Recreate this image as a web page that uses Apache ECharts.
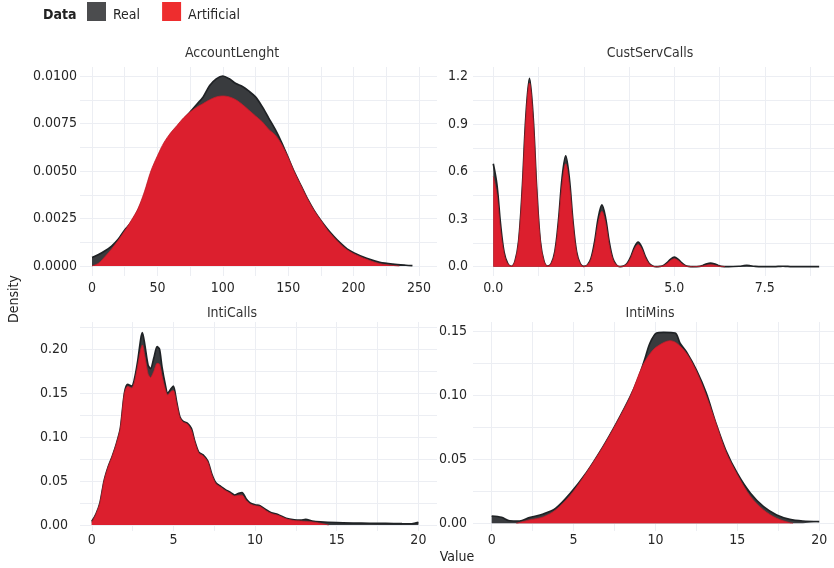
<!DOCTYPE html>
<html><head><meta charset="utf-8">
<script src="https://cdn.jsdelivr.net/npm/echarts@6/dist/echarts.min.js"></script>
<style>html,body{margin:0;padding:0;background:#fff}#c{width:834px;height:568px}</style>
</head><body><div id="c"></div>
<script>
// ---------- data ----------
const panelTitles = ['AccountLenght', 'CustServCalls', 'IntiCalls', 'IntiMins'];
const legendNames = ['Real', 'Artificial'];

const accReal = [[0,0.00045],[5,0.0006],[10,0.0008],[15,0.00105],[20,0.0014],[25,0.0019],[30,0.0023],[35,0.0029],[40,0.0037],[45,0.0048],[50,0.0056],[55,0.0063],[60,0.0069],[65,0.0073],[70,0.0077],[75,0.0081],[80,0.0085],[85,0.0089],[90,0.0095],[95,0.00985],[100,0.0100],[105,0.00985],[110,0.0096],[115,0.00945],[120,0.0092],[125,0.0089],[130,0.0084],[135,0.0078],[140,0.0072],[145,0.0065],[150,0.0057],[155,0.0049],[160,0.0042],[165,0.0035],[170,0.0029],[175,0.0024],[180,0.00195],[185,0.00155],[190,0.0012],[195,0.0009],[200,0.0007],[210,0.0004],[220,0.0002],[230,0.0001],[240,0.00004],[245,0.00002]];
const accArt = [[0,0],[5,0.00015],[10,0.0005],[15,0.0009],[20,0.00135],[25,0.00185],[30,0.0024],[35,0.003],[40,0.0039],[45,0.005],[50,0.0058],[55,0.0065],[60,0.007],[65,0.0074],[70,0.0078],[75,0.0081],[80,0.00835],[85,0.00855],[90,0.00875],[95,0.0089],[100,0.00895],[105,0.0089],[110,0.00875],[115,0.0085],[120,0.0082],[125,0.0079],[130,0.0076],[135,0.0072],[140,0.0069],[145,0.0064],[150,0.0057],[155,0.0049],[160,0.0042],[165,0.0035],[170,0.0029],[175,0.0024],[180,0.0019],[185,0.0015],[190,0.00115],[195,0.00085],[200,0.00065],[210,0.00035],[220,0.00012],[230,0.00003],[235,0]];

const csReal = [[0,0.65],[0.1,0.52],[0.2,0.27],[0.3,0.09],[0.4,0.02],[0.5,0.003],
[0.6,0.035],[0.7,0.16],[0.8,0.49],[0.9,0.95],[1.0,1.19],[1.1,0.95],[1.2,0.49],[1.3,0.16],[1.4,0.035],[1.5,0.004],
[1.6,0.02],[1.7,0.095],[1.8,0.29],[1.9,0.56],[2.0,0.70],[2.1,0.56],[2.2,0.29],[2.3,0.095],[2.4,0.02],[2.5,0.002],
[2.6,0.011],[2.7,0.053],[2.8,0.16],[2.9,0.31],[3.0,0.39],[3.1,0.31],[3.2,0.16],[3.3,0.053],[3.4,0.011],[3.5,0.001],
[3.6,0.004],[3.7,0.021],[3.8,0.064],[3.9,0.124],[4.0,0.155],[4.1,0.124],[4.2,0.064],[4.3,0.021],[4.4,0.004],[4.5,0],
[4.6,0.002],[4.7,0.008],[4.8,0.025],[4.9,0.048],[5.0,0.06],[5.1,0.048],[5.2,0.025],[5.3,0.008],[5.4,0.002],[5.5,0],
[5.7,0.002],[5.8,0.009],[5.9,0.018],[6.0,0.022],[6.1,0.018],[6.2,0.009],[6.3,0.002],[6.5,0],
[6.8,0.003],[6.9,0.006],[7.0,0.008],[7.1,0.006],[7.2,0.003],[7.4,0],
[7.8,0.001],[7.9,0.002],[8.0,0.003],[8.1,0.002],[8.2,0.001],[8.5,0],[9.0,0.001]];
const csArt = [[0,0.57],[0.1,0.46],[0.2,0.23],[0.3,0.08],[0.4,0.017],[0.5,0.003],
[0.6,0.034],[0.7,0.16],[0.8,0.48],[0.9,0.93],[1.0,1.16],[1.1,0.93],[1.2,0.48],[1.3,0.16],[1.4,0.034],[1.5,0.004],
[1.6,0.019],[1.7,0.088],[1.8,0.27],[1.9,0.52],[2.0,0.65],[2.1,0.52],[2.2,0.27],[2.3,0.088],[2.4,0.019],[2.5,0.002],
[2.6,0.01],[2.7,0.047],[2.8,0.14],[2.9,0.28],[3.0,0.35],[3.1,0.28],[3.2,0.14],[3.3,0.047],[3.4,0.01],[3.5,0.001],
[3.6,0.004],[3.7,0.019],[3.8,0.057],[3.9,0.112],[4.0,0.14],[4.1,0.112],[4.2,0.057],[4.3,0.019],[4.4,0.004],[4.5,0],
[4.6,0.001],[4.7,0.006],[4.8,0.02],[4.9,0.04],[5.0,0.05],[5.1,0.04],[5.2,0.02],[5.3,0.006],[5.4,0.001],[5.5,0],
[5.8,0.005],[5.9,0.01],[6.0,0.012],[6.1,0.01],[6.2,0.005],[6.4,0]];

const icReal = [[0,0.004],[0.25,0.012],[0.5,0.025],[0.75,0.05],[1.0,0.066],[1.25,0.078],[1.5,0.092],[1.75,0.11],[2.0,0.15],[2.2,0.16],[2.45,0.158],[2.6,0.165],[2.8,0.185],[3.0,0.212],[3.1,0.219],[3.25,0.205],[3.45,0.182],[3.6,0.178],[3.8,0.19],[4.0,0.203],[4.15,0.2],[4.3,0.18],[4.5,0.16],[4.65,0.15],[4.85,0.155],[5.0,0.158],[5.2,0.14],[5.4,0.123],[5.6,0.118],[5.85,0.116],[6.1,0.11],[6.3,0.096],[6.55,0.083],[6.8,0.08],[7.1,0.073],[7.35,0.058],[7.6,0.048],[7.9,0.044],[8.2,0.04],[8.5,0.037],[8.75,0.034],[9.0,0.036],[9.2,0.037],[9.45,0.03],[9.7,0.025],[10.0,0.023],[10.3,0.022],[10.7,0.017],[11.0,0.014],[11.4,0.012],[11.9,0.0076],[12.4,0.0058],[12.8,0.0055],[13.1,0.0065],[13.5,0.0045],[14.0,0.0035],[15,0.0026],[16,0.0022],[17,0.002],[18,0.0018],[19,0.0015],[19.6,0.0014],[20,0.003]];
const icArt = [[0,0.003],[0.25,0.012],[0.5,0.025],[0.75,0.05],[1.0,0.066],[1.25,0.078],[1.5,0.092],[1.75,0.11],[2.0,0.15],[2.2,0.158],[2.45,0.156],[2.6,0.162],[2.8,0.18],[3.0,0.2],[3.1,0.205],[3.25,0.192],[3.45,0.172],[3.6,0.168],[3.8,0.175],[4.0,0.184],[4.15,0.183],[4.3,0.17],[4.5,0.155],[4.65,0.148],[4.85,0.152],[5.0,0.153],[5.2,0.138],[5.4,0.122],[5.6,0.117],[5.85,0.115],[6.1,0.108],[6.3,0.095],[6.55,0.082],[6.8,0.079],[7.1,0.072],[7.35,0.057],[7.6,0.047],[7.9,0.043],[8.2,0.039],[8.5,0.036],[8.75,0.033],[9.0,0.034],[9.2,0.034],[9.45,0.028],[9.7,0.024],[10.0,0.022],[10.3,0.021],[10.7,0.016],[11.0,0.013],[11.4,0.011],[11.9,0.007],[12.4,0.005],[12.8,0.0045],[13.1,0.004],[13.5,0.0035],[14.0,0.002],[14.5,0]];

const imReal = [[0,0.0057],[0.6,0.0047],[1.1,0.002],[1.7,0.0018],[2.3,0.0044],[3.15,0.0073],[3.9,0.0117],[4.8,0.0235],[5.8,0.040],[6.8,0.060],[7.6,0.078],[8.45,0.099],[8.95,0.1135],[9.36,0.129],[9.66,0.141],[10.07,0.149],[10.5,0.1495],[11.2,0.149],[11.5,0.141],[11.9,0.134],[12.5,0.120],[13.1,0.102],[13.7,0.078],[14.3,0.057],[15.0,0.039],[15.8,0.0235],[16.6,0.013],[17.4,0.0065],[18.2,0.0031],[19.0,0.0018],[20,0.0013]];
const imArt = [[1.5,0],[2.3,0.0026],[3.15,0.005],[3.9,0.0104],[4.8,0.022],[5.8,0.040],[6.8,0.06],[7.6,0.078],[8.45,0.099],[9.2,0.123],[9.87,0.136],[10.5,0.1415],[10.9,0.143],[11.3,0.141],[11.9,0.133],[12.5,0.119],[13.1,0.100],[13.7,0.078],[14.3,0.056],[15.0,0.038],[15.8,0.021],[16.6,0.0104],[17.4,0.0039],[18.2,0.0005],[18.4,0]];

// tick labels / gridline positions
const accXTicks = [0,50,100,150,200,250];
const accXGrid = [0,25,50,75,100,125,150,175,200,225,250];
const accYTicks = [0,0.0025,0.005,0.0075,0.01];
const accYGrid = [0,0.00125,0.0025,0.00375,0.005,0.00625,0.0075,0.00875,0.01];
const csXTicks = [0,2.5,5,7.5];
const csXGrid = [0,1.25,2.5,3.75,5,6.25,7.5,8.75];
const csYTicks = [0,0.3,0.6,0.9,1.2];
const csYGrid = [0,0.15,0.3,0.45,0.6,0.75,0.9,1.05,1.2];
const icXTicks = [0,5,10,15,20];
const icXGrid = [0,2.5,5,7.5,10,12.5,15,17.5,20];
const icYTicks = [0,0.05,0.1,0.15,0.2];
const icYGrid = [0,0.025,0.05,0.075,0.1,0.125,0.15,0.175,0.2,0.225];
const imXTicks = [0,5,10,15,20];
const imXGrid = [0,2.5,5,7.5,10,12.5,15,17.5,20];
const imYTicks = [0,0.05,0.1,0.15];
const imYGrid = [0,0.025,0.05,0.075,0.1,0.125,0.15];

// ---------- layout / style ----------
const FONT = '"DejaVu Sans Condensed","Liberation Sans Narrow","Roboto Condensed",sans-serif';
const FS = 14;
const TXT = '#262626';
const GRIDC = '#eceef3';
const REAL_FILL = '#393b3e', REAL_LINE = '#1f2225';
const ART_FILL = '#dc1f2e', ART_LINE = '#c21d29';

const panels = [
  {grid:{left:80,top:67,width:357,height:209}, x:{min:-9.2,max:263.8,ticks:accXTicks,grid:accXGrid,dec:0,m:5}, y:{min:-0.000526,max:0.010474,ticks:accYTicks,grid:accYGrid,dec:4,m:3}, real:accReal, art:accArt, smooth:0.3, title:[232,53]},
  {grid:{left:473,top:67,width:361,height:209}, x:{min:-0.56,max:9.41,ticks:csXTicks,grid:csXGrid,dec:1,m:5}, y:{min:-0.0587,max:1.261,ticks:csYTicks,grid:csYGrid,dec:1,m:5}, real:csReal, art:csArt, smooth:0.35, title:[650,53]},
  {grid:{left:80,top:322,width:357,height:209}, x:{min:-0.72,max:21.14,ticks:icXTicks,grid:icXGrid,dec:0,m:2}, y:{min:-0.00683,max:0.2311,ticks:icYTicks,grid:icYGrid,dec:2,m:12}, real:icReal, art:icArt, smooth:0.25, title:[232,313]},
  {grid:{left:473,top:322,width:361,height:209}, x:{min:-1.14,max:20.9,ticks:imXTicks,grid:imXGrid,dec:0,m:2}, y:{min:-0.00603,max:0.15763,ticks:imYTicks,grid:imYGrid,dec:2,m:6}, real:imReal, art:imArt, smooth:0.3, title:[650,313]}
];

function mkAxis(a, gi) {
  return {
    type:'value', gridIndex:gi, min:a.min, max:a.max, scale:true,
    axisLine:{show:false},
    axisTick:{show:false, customValues:a.grid},
    axisLabel:{customValues:a.ticks, margin:a.m, color:TXT, fontFamily:FONT, fontSize:FS,
      formatter:v => Number(v).toFixed(a.dec), hideOverlap:false, showMinLabel:true, showMaxLabel:true},
    splitLine:{show:true, lineStyle:{color:GRIDC, width:1}},
    minorSplitLine:{show:false}
  };
}

const grids = [], xAxes = [], yAxes = [], series = [], graphics = [];
panels.forEach((p, i) => {
  grids.push(Object.assign({containLabel:false}, p.grid));
  xAxes.push(mkAxis(p.x, i));
  yAxes.push(mkAxis(p.y, i));
  series.push({name:legendNames[0], type:'line', xAxisIndex:i, yAxisIndex:i, data:p.real, smooth:p.smooth,
    showSymbol:false, symbol:'none', color:REAL_FILL, lineStyle:{color:REAL_LINE, width:1.7},
    areaStyle:{color:REAL_FILL, opacity:1}, z:2, silent:true, animation:false});
  series.push({name:legendNames[1], type:'line', xAxisIndex:i, yAxisIndex:i, data:p.art, smooth:p.smooth,
    showSymbol:false, symbol:'none', color:ART_FILL, lineStyle:{color:ART_LINE, width:0.8},
    areaStyle:{color:ART_FILL, opacity:1}, z:3, silent:true, animation:false});
  graphics.push({type:'text', x:p.title[0], y:p.title[1], style:{text:panelTitles[i], fill:'#333',
    font:FS + 'px ' + FONT, textAlign:'center', textVerticalAlign:'middle'}});
});

graphics.push({type:'text', x:43, y:15, style:{text:'Data', fill:'#222', font:'bold ' + FS + 'px ' + FONT, textAlign:'left', textVerticalAlign:'middle'}});
graphics.push({type:'text', x:14, y:299, rotation:Math.PI/2, style:{text:'Density', fill:'#222', font:FS + 'px ' + FONT, textAlign:'center', textVerticalAlign:'middle'}});
graphics.push({type:'text', x:457, y:557, style:{text:'Value', fill:'#222', font:FS + 'px ' + FONT, textAlign:'center', textVerticalAlign:'middle'}});

const chart = echarts.init(document.getElementById('c'), null, {renderer:'canvas'});
chart.setOption({
  backgroundColor:'#ffffff',
  animation:false,
  legend:{left:87, top:2, padding:0, itemWidth:19, itemHeight:19, itemGap:22, icon:'rect', selectedMode:false,
    formatter: n => '{t|' + n + '}',
    textStyle:{color:TXT, fontFamily:FONT, fontSize:FS,
      rich:{t:{color:TXT, fontFamily:FONT, fontSize:FS, padding:[8,0,0,2]}}},
    data:[{name:'Real', itemStyle:{color:'#4b4c4e'}}, {name:'Artificial', itemStyle:{color:'#ee2d2e'}}]},
  grid:grids, xAxis:xAxes, yAxis:yAxes, series:series, graphic:graphics
});
</script></body></html>
